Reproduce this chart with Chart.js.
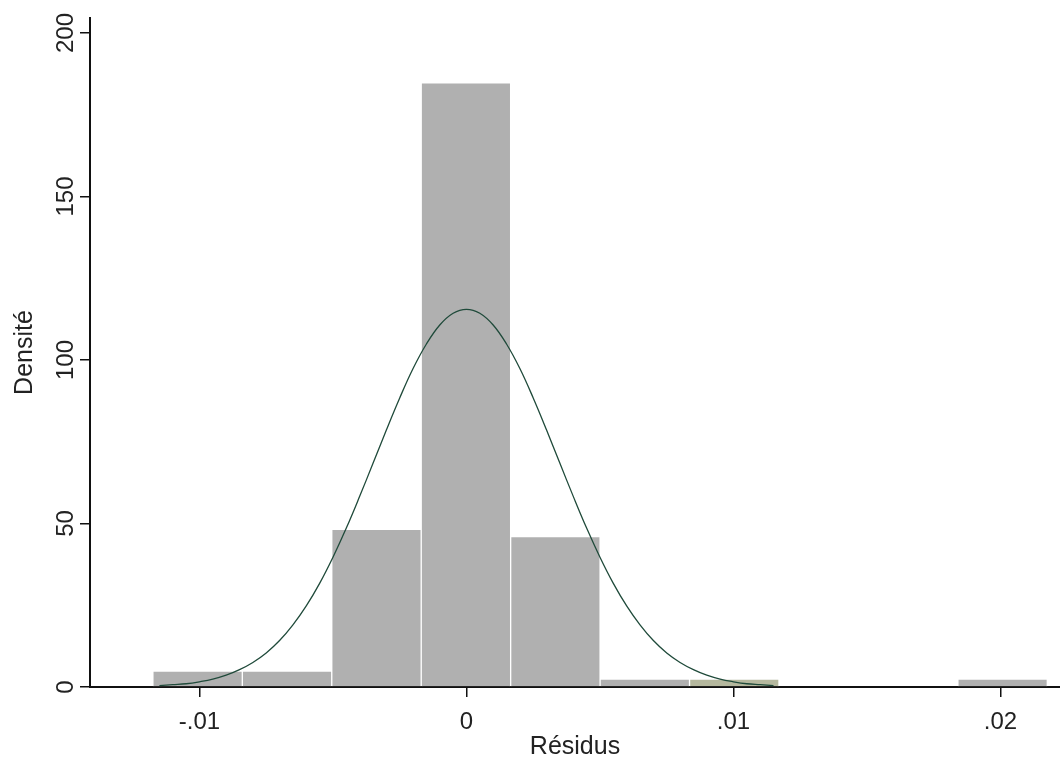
<!DOCTYPE html>
<html>
<head>
<meta charset="utf-8">
<script src="https://cdn.jsdelivr.net/npm/chart.js@4.4.1/dist/chart.umd.min.js"></script>
<style>
  html, body { margin: 0; padding: 0; background: #fff; }
  #wrap { width: 1060px; height: 762px; }
</style>
</head>
<body>
<div id="wrap"><canvas id="chart" width="1060" height="762"></canvas></div>
<script>
// ===================== DATA =====================
// histogram of the residuals (bin centres, density)
const binCenters = [-0.01007, -0.00672, -0.00337, -0.00002, 0.00333, 0.00668, 0.01003, 0.01338, 0.01673, 0.02008];
const binDensity = [4.9, 4.9, 48.2, 184.8, 46.0, 2.4, 2.4, 0, 0, 2.4];

// normal density curve
const curveX = [
  -0.0115, -0.011, -0.0105, -0.01, -0.0095, -0.009, -0.0085, -0.008, -0.0075, -0.007,
  -0.0065, -0.006, -0.0055, -0.005, -0.0045, -0.004, -0.0035, -0.003, -0.0025, -0.002,
  -0.0015, -0.001, -0.0005, 0, 0.0005, 0.001, 0.0015, 0.002, 0.0025, 0.003,
  0.0035, 0.004, 0.0045, 0.005, 0.0055, 0.006, 0.0065, 0.007, 0.0075, 0.008,
  0.0085, 0.009, 0.0095, 0.01, 0.0105, 0.011, 0.0115
];
const curveY = [
  0.4, 0.7, 1.0, 1.6, 2.4, 3.6, 5.3, 7.5, 10.4, 14.2,
  19.0, 24.8, 31.7, 39.7, 48.6, 58.3, 68.4, 78.6, 88.4, 97.4,
  104.9, 110.7, 114.3, 115.5, 114.3, 110.7, 104.9, 97.4, 88.4, 78.6,
  68.4, 58.3, 48.6, 39.7, 31.7, 24.8, 19.0, 14.2, 10.4, 7.5,
  5.3, 3.6, 2.4, 1.6, 1.0, 0.7, 0.4
];

const xTicks = [-0.01, 0, 0.01, 0.02];
const xTickLabels = ["-.01", "0", ".01", ".02"];
const yTicks = [0, 50, 100, 150, 200];
const yTickLabels = ["0", "50", "100", "150", "200"];

// ===================== CHART =====================
Chart.defaults.font.family = "'Liberation Sans', Arial, sans-serif";
Chart.defaults.color = "#222";

const barColors = binDensity.map((v, i) => i === 6 ? "#b5b89e" : "#b0b0b0");

new Chart(document.getElementById("chart").getContext("2d"), {
  data: {
    datasets: [
      {
        type: "line",
        label: "Normale",
        data: curveX.map((x, i) => ({ x, y: curveY[i] })),
        borderColor: "#1f4a3a",
        borderWidth: 1.3,
        pointRadius: 0,
        tension: 0.4,
        fill: false,
        order: 0
      },
      {
        type: "bar",
        label: "Densité",
        data: binCenters.map((x, i) => ({ x, y: binDensity[i] })),
        backgroundColor: barColors,
        borderColor: "#ffffff",
        borderWidth: 1,
        borderSkipped: "bottom",
        barPercentage: 1,
        categoryPercentage: 1,
        order: 1
      }
    ]
  },
  options: {
    responsive: false,
    animation: false,
    devicePixelRatio: 1,
    layout: { padding: { top: 18, right: 0, bottom: 0, left: 10 } },
    plugins: { legend: { display: false }, tooltip: { enabled: false } },
    scales: {
      x: {
        type: "linear",
        min: -0.0141,
        max: 0.02223,
        offset: false,
        afterBuildTicks: s => { s.ticks = xTicks.map(v => ({ value: v })); },
        afterFit: s => { s.height = 75; },
        ticks: {
          callback: (v) => xTickLabels[xTicks.indexOf(v)],
          font: { size: 24 },
          color: "#222",
          padding: 11,
          maxRotation: 0
        },
        grid: { display: true, offset: false, drawOnChartArea: false, drawTicks: true, tickLength: 10, color: "#111", lineWidth: 1.5 },
        border: { display: true, color: "#111", width: 2 },
        title: { display: true, text: "Résidus", font: { size: 25 }, color: "#222", padding: 0 }
      },
      y: {
        type: "linear",
        min: 0,
        max: 204.6,
        afterBuildTicks: s => { s.ticks = yTicks.map(v => ({ value: v })); },
        afterFit: s => { s.width = 80; },
        ticks: {
          callback: (v) => yTickLabels[yTicks.indexOf(v)],
          font: { size: 24 },
          color: "#222",
          padding: -6,
          crossAlign: "center",
          minRotation: 90,
          maxRotation: 90
        },
        grid: { display: true, offset: false, drawOnChartArea: false, drawTicks: true, tickLength: 10, color: "#111", lineWidth: 1.5 },
        border: { display: true, color: "#111", width: 2 },
        title: { display: true, text: "Densité", font: { size: 25 }, color: "#222", padding: 0 }
      }
    }
  }
});
</script>
</body>
</html>
